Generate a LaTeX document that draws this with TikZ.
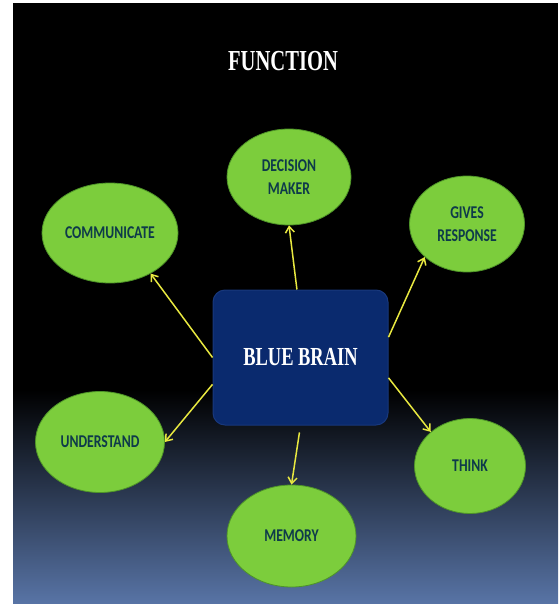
\documentclass[tikz,border=0pt]{standalone}
\usepackage{fontspec}
\usetikzlibrary{shapes.geometric,arrows.meta}

\newfontfamily\titlefont[FakeStretch=0.71]{Liberation Serif}
\newfontfamily\labelfont[FakeStretch=0.76]{Carlito}

\definecolor{leafgreen}{RGB}{124,205,60}
\definecolor{leafedge}{RGB}{78,148,40}
\definecolor{labelink}{RGB}{14,58,74}
\definecolor{brainblue}{RGB}{10,42,110}
\definecolor{brainedge}{RGB}{24,56,124}
\definecolor{arrowyellow}{RGB}{232,232,64}
\definecolor{skyblue}{RGB}{88,116,166}

\tikzset{
	func/.style={ellipse, draw=leafedge, line width=0.8pt, fill=leafgreen, inner sep=0pt,
		text=labelink, align=center, font=\labelfont\bfseries\fontsize{18}{23}\selectfont},
	core/.style={rectangle, rounded corners=12pt, draw=brainedge, line width=1pt, fill=brainblue,
		minimum width=175pt, minimum height=135pt, text=white,
		font=\titlefont\bfseries\fontsize{26}{30}\selectfont},
	link/.style={->, draw=arrowyellow, line width=1.5pt}
}

\begin{document}
\begin{tikzpicture}[x=1pt, y=-1pt, >={Straight Barb[length=6pt,width=9pt]}]

	\useasboundingbox (0,0) rectangle (558,604);

	% draw background
	\fill[white] (0,0) rectangle (558,604);
	\fill[black] (13,3) rectangle (558,391);
	\shade[top color=black, bottom color=skyblue] (13,390) rectangle (558,604);

	% draw title
	\node[text=white, font=\titlefont\bfseries\fontsize{29}{34}\selectfont] (title) at (283,61) {FUNCTION};

	% draw centre box
	\node[core] (brain) at (300.5,357.5) {BLUE BRAIN};

	% draw functions
	\node[func, minimum width=124pt, minimum height=96pt] (decision) at (289,177) {DECISION\\MAKER};
	\node[func, minimum width=136pt, minimum height=100pt] (communicate) at (110,233) {COMMUNICATE};
	\node[func, minimum width=115pt, minimum height=96pt] (gives) at (467,224) {GIVES\\RESPONSE};
	\node[func, minimum width=129pt, minimum height=101pt] (understand) at (100,442) {UNDERSTAND};
	\node[func, minimum width=111pt, minimum height=95pt] (think) at (470,466) {THINK};
	\node[func, minimum width=129pt, minimum height=102pt] (memory) at (291.5,536) {MEMORY};

	% draw edges
	\path (brain.93) edge[link] (decision.south);
	\path (brain.13) edge[link] (gives.218);
	\path (brain.west) edge[link] (communicate.-45);
	\path (brain.197) edge[link] (understand.east);
	\path (brain.-13) edge[link] (think.139);
	\path (brain.south) edge[link, shorten <=7pt] (memory.north);

\end{tikzpicture}
\end{document}
